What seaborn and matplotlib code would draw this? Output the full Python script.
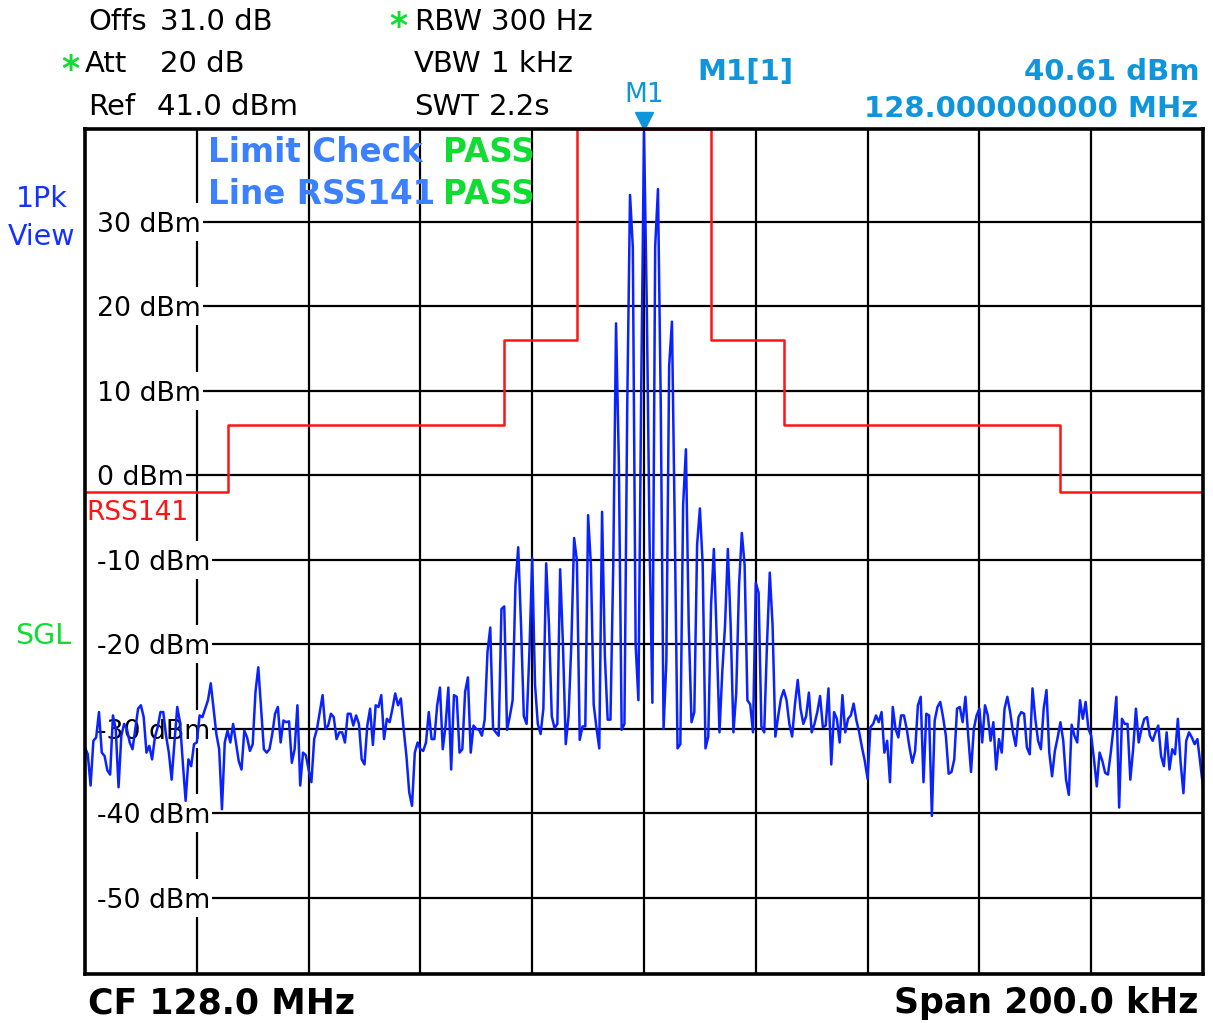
import numpy as np
import matplotlib
matplotlib.use("Agg")
import matplotlib.pyplot as plt
from matplotlib.patches import Rectangle
import seaborn as sns

sns.set_theme(style="white")
plt.rcParams["font.family"] = ["DejaVu Sans"]
plt.rcParams["text.color"] = "black"

# Analyzer settings
center_mhz = 128.0
span_khz = 200.0
ref_level_dbm = 41.0
db_per_div = 10.0

# Max-hold trace, 0.5 kHz per sweep point from -100 kHz to +100 kHz
trace_dbm = [
    -32.2, -33.0, -36.7, -31.4, -31.0, -28.0, -32.8, -33.2, -34.9, -35.4,
    -28.4, -30.0, -36.9, -30.8, -29.4, -30.0, -31.6, -32.4, -30.0, -27.6,
    -27.2, -28.6, -32.8, -32.0, -33.6, -31.0, -29.8, -28.0, -28.0, -30.8,
    -32.8, -36.0, -31.6, -27.4, -29.2, -34.0, -38.5, -33.6, -34.4, -31.8,
    -31.6, -28.4, -28.6, -27.6, -26.6, -24.6, -27.6, -30.6, -32.4, -39.5,
    -31.6, -30.2, -31.6, -29.4, -31.6, -33.8, -34.8, -30.2, -31.0, -32.6,
    -31.8, -25.6, -22.7, -27.6, -32.4, -32.8, -32.4, -30.6, -28.2, -27.4,
    -31.6, -29.0,
    -29.2, -29.1, -34.0, -32.4, -27.2, -36.7, -32.8, -33.1, -34.8, -36.3,
    -31.2, -30.0, -28.0, -26.0, -30.0, -29.6, -28.2, -28.6, -31.2, -30.4,
    -30.4, -31.6, -28.2, -28.2, -29.6, -28.4, -29.4, -33.6, -34.2, -29.6,
    -27.6, -31.9, -27.2, -27.4, -26.0, -31.2, -28.8, -29.2, -27.6, -25.8,
    -27.2, -26.4, -30.0, -33.2, -37.5, -39.1, -32.8, -31.6, -32.4, -32.6,
    -31.6, -28.0, -31.2, -31.2, -27.2, -25.1, -32.4, -29.6, -25.1, -34.8,
    -26.0, -26.2, -32.8, -32.4, -25.6, -23.9, -32.8, -29.6, -30.0,
    -30.1, -30.8, -28.9, -20.9, -18.0, -30.0, -30.4, -30.8, -15.8, -15.5,
    -30.1, -28.5, -26.6, -13.0, -8.5, -17.7, -28.5, -29.4, -20.9, -9.8,
    -24.7, -29.4, -30.6, -27.6, -10.4, -17.7, -28.5, -29.9, -29.4, -11.1,
    -20.0, -31.8, -28.5, -20.0, -7.4, -10.1, -31.3, -29.7, -29.7, -4.7,
    -10.6, -27.1, -29.9, -32.3, -4.3, -21.4, -28.9, -28.9, -10.6, 18.0,
    1.6, -30.1, -29.4, 8.2, 33.2, 27.0, -20.0, -26.6, 10.0,
    40.61,
    20.0, -8.0, -26.9, 27.1, 33.9, 8.2, -30.0, -22.0, 13.0, 18.2,
    -5.9, -32.3, -31.8, -3.5, 3.1, -17.7, -29.2, -28.0, -8.2, -3.9,
    -10.6, -32.3, -30.9, -15.3, -8.7, -19.1, -30.4, -23.3, -17.7, -8.7,
    -17.7, -30.4, -25.7, -13.0, -6.8, -10.6, -26.6, -27.1, -30.4, -12.7,
    -13.9, -29.7, -30.4, -20.0, -11.5, -17.7, -30.9, -28.5, -26.4, -25.4,
    -26.6, -29.4, -30.9, -27.1, -24.2, -27.6, -29.4, -28.5, -25.7, -30.4,
    -29.4, -28.0, -26.1,
    -29.8, -29.6, -25.2, -34.2, -28.0, -28.8, -31.6, -26.0, -30.4, -28.8,
    -28.4, -27.0, -29.0, -30.4, -32.2, -33.8, -35.9, -29.8, -29.4, -28.4,
    -29.2, -28.0, -32.8, -31.4, -36.3, -27.4, -30.0, -31.0, -28.4, -28.4,
    -30.0, -32.2, -34.0, -32.6, -27.2, -26.2, -36.3, -28.2, -28.4, -40.3,
    -29.0, -27.4, -26.8, -28.6, -30.8, -35.3, -35.1, -33.6, -27.6, -27.4,
    -29.2, -26.2, -30.8, -35.1, -30.0, -28.4, -27.6, -31.6, -27.2, -28.4,
    -31.4, -29.2, -34.8, -31.2, -32.8,
    -27.6, -26.2, -28.0, -30.4, -32.0, -28.6, -28.0, -28.2, -32.2, -33.0,
    -25.2, -28.8, -31.4, -32.4, -27.6, -25.4, -32.8, -35.6, -32.6, -31.0,
    -29.2, -31.4, -36.0, -37.8, -29.5, -30.8, -31.6, -26.6, -28.8, -26.8,
    -30.0, -30.8, -33.6, -36.8, -32.8, -33.8, -35.2, -35.4, -32.8, -29.8,
    -26.2, -39.3, -28.8, -29.4, -29.4, -36.0, -32.4, -27.6, -31.6, -30.0,
    -28.8, -28.6, -30.8, -31.4, -30.4, -29.6, -33.2, -34.4, -30.4, -34.8,
    -32.4, -33.0, -28.8, -34.0, -37.6, -31.4, -30.4, -31.0, -31.8, -31.2,
    -34.0, -36.8,
]
freq_khz = np.linspace(-span_khz / 2, span_khz / 2, len(trace_dbm))

# RSS141 limit mask (step breakpoints, offset from carrier)
limit_freq_khz = [-100, -74.5, -25, -12, 12, 25, 74.5, 100]
limit_dbm = [-2, 6, 16, 41, 16, 6, -2, -2]

y_tick_values = [30, 20, 10, 0, -10, -20, -30, -40, -50]
x_grid_khz = [-80, -60, -40, -20, 0, 20, 40, 60, 80]

marker_freq_khz = 0.0
marker_level_dbm = 40.61

# Colours
C_TRACE = "#0a22ff"
C_LIMIT = "#ff1414"
C_MARK = "#0f95dc"
C_VIEW = "#1432ff"
C_CHECK = "#3a80ff"
C_GREEN = "#10dc32"

W, H = 1213, 1023
fig = plt.figure(figsize=(W / 100, H / 100), dpi=100)
fig.patch.set_facecolor("white")

ax_left, ax_right, ax_top, ax_bottom = 85, 1203, 129, 974
ax = fig.add_axes([ax_left / W, 1 - ax_bottom / H,
                   (ax_right - ax_left) / W, (ax_bottom - ax_top) / H])
ax.set_facecolor("white")
ax.set_xlim(-span_khz / 2, span_khz / 2)
ax.set_ylim(ref_level_dbm - 10 * db_per_div, ref_level_dbm)

for xv in x_grid_khz:
    ax.axvline(xv, color="black", lw=1.6, zorder=1)
for yv in y_tick_values:
    ax.axhline(yv, color="black", lw=1.6, zorder=1)

# Level labels inside the graticule
tick_texts = []
for v in y_tick_values:
    t = ax.text(-97.85, v, f"{v} dBm", ha="left", va="center_baseline",
                fontsize=19.3, color="black", zorder=2.5)
    tick_texts.append(t)

ax.text(-99.8, -4.5, "RSS141", ha="left", va="center", fontsize=19,
        color=C_LIMIT, zorder=2.5)

# Limit line and trace
sns.lineplot(x=limit_freq_khz, y=limit_dbm, drawstyle="steps-post",
             estimator=None, sort=False, color=C_LIMIT, lw=1.8,
             ax=ax, zorder=3)
sns.lineplot(x=freq_khz, y=trace_dbm, estimator=None, sort=False,
             color=C_TRACE, lw=1.8, ax=ax, zorder=4)

# Marker M1
ax.plot([marker_freq_khz], [ref_level_dbm + 0.95], marker="v", ms=13,
        color=C_MARK, clip_on=False, zorder=6, ls="none")
ax.text(marker_freq_khz, ref_level_dbm + 4.0, "M1", ha="center", va="center",
        fontsize=19, color=C_MARK, clip_on=False)

ax.set_xticks([])
ax.set_yticks([])
ax.set_xlabel("")
ax.set_ylabel("")
for s in ax.spines.values():
    s.set_visible(True)
    s.set_color("black")
    s.set_linewidth(2.6)
    s.set_zorder(7)

# Limit check result
ax.text(-78.0, 38.2, "Limit Check", ha="left", va="center", fontsize=23.5,
        fontweight="bold", color=C_CHECK, zorder=5)
ax.text(-78.0, 33.2, "Line RSS141", ha="left", va="center", fontsize=23.5,
        fontweight="bold", color=C_CHECK, zorder=5)
ax.text(-36.0, 38.2, "PASS", ha="left", va="center", fontsize=23.5,
        fontweight="bold", color=C_GREEN, zorder=5)
ax.text(-36.0, 33.2, "PASS", ha="left", va="center", fontsize=23.5,
        fontweight="bold", color=C_GREEN, zorder=5)


def px(x, y):
    return x / W, 1 - y / H


HDR = 21
# Header: settings block
fig.text(*px(88, 22), "Offs", ha="left", va="center", fontsize=HDR)
fig.text(*px(160, 22), "31.0 dB", ha="left", va="center", fontsize=HDR)
fig.text(*px(61, 70), "*", ha="left", va="center", fontsize=25,
         fontweight="bold", color=C_GREEN)
fig.text(*px(85, 64), "Att", ha="left", va="center", fontsize=HDR)
fig.text(*px(160, 64), "20 dB", ha="left", va="center", fontsize=HDR)
fig.text(*px(88, 107), "Ref", ha="left", va="center", fontsize=HDR)
fig.text(*px(157, 107), "41.0 dBm", ha="left", va="center", fontsize=HDR)
fig.text(*px(389, 27), "*", ha="left", va="center", fontsize=25,
         fontweight="bold", color=C_GREEN)
fig.text(*px(414, 22), "RBW", ha="left", va="center", fontsize=HDR)
fig.text(*px(491, 22), "300 Hz", ha="left", va="center", fontsize=HDR)
fig.text(*px(414, 64), "VBW", ha="left", va="center", fontsize=HDR)
fig.text(*px(491, 64), "1 kHz", ha="left", va="center", fontsize=HDR)
fig.text(*px(414, 107), "SWT", ha="left", va="center", fontsize=HDR)
fig.text(*px(489, 107), "2.2s", ha="left", va="center", fontsize=HDR)

# Header: marker readout
fig.text(*px(697, 72), "M1[1]", ha="left", va="center", fontsize=21,
         fontweight="bold", color=C_MARK)
fig.text(*px(1200, 72), f"{marker_level_dbm:.2f} dBm", ha="right",
         va="center", fontsize=21, fontweight="bold", color=C_MARK)
fig.text(*px(1198, 109), f"{center_mhz + marker_freq_khz / 1000:.9f} MHz",
         ha="right", va="center", fontsize=21, fontweight="bold",
         color=C_MARK)

# Left status labels
fig.text(*px(42, 199), "1Pk", ha="center", va="center", fontsize=20.5,
         color=C_VIEW)
fig.text(*px(42, 237), "View", ha="center", va="center", fontsize=20.5,
         color=C_VIEW)
fig.text(*px(43, 636), "SGL", ha="center", va="center", fontsize=20.5,
         color=C_GREEN)

# Footer
fig.text(*px(88, 1003), f"CF {center_mhz:.1f} MHz", ha="left", va="center",
         fontsize=25, fontweight="bold")
fig.text(*px(1198, 1003), f"Span {span_khz:.1f} kHz", ha="right",
         va="center", fontsize=25, fontweight="bold")

# White boxes behind the level labels, from the frame to the end of each text
fig.canvas.draw()
renderer = fig.canvas.get_renderer()
inv = ax.transData.inverted()
left_disp = ax.transAxes.transform((0, 0))[0]
for t, v in zip(tick_texts, y_tick_values):
    bb = t.get_window_extent(renderer)
    yc = ax.transData.transform((0, v))[1]
    x0, y0 = inv.transform((left_disp, yc - 19))
    x1, y1 = inv.transform((bb.x1 + 2, yc + 19))
    ax.add_patch(Rectangle((x0, y0), x1 - x0, y1 - y0, fc="white",
                           ec="none", zorder=2))

fig.savefig("out.png", dpi=100, facecolor="white")
